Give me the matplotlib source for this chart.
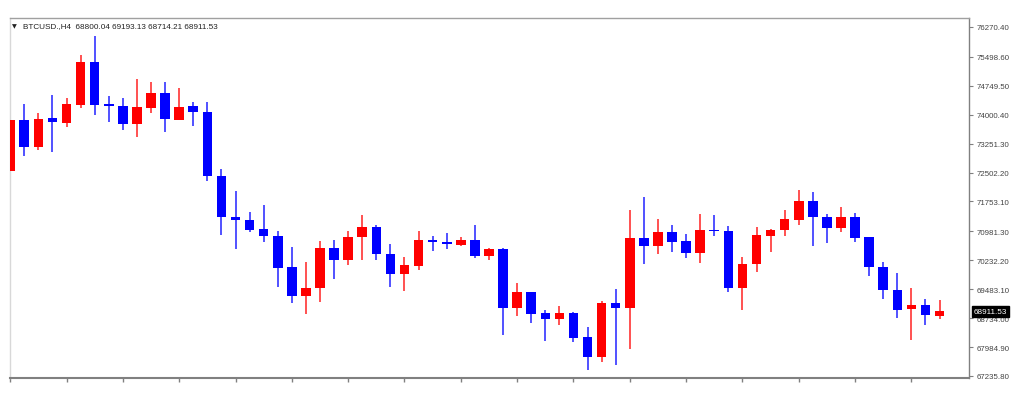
import matplotlib.pyplot as plt
import matplotlib.transforms as mtransforms
import numpy as np

plt.rcParams['font.family'] = ['Liberation Sans', 'DejaVu Sans']

# BTCUSD H4 candles
opens = [72550, 73871, 73172, 73907, 73785, 74259, 75356, 74277, 74233, 73759,
         74173, 74562, 73871, 74217, 74078, 72421, 71359, 71274, 71041, 70860,
         70050, 69314, 69506, 70542, 70239, 70826, 71093, 70402, 69868, 70091,
         70756, 70705, 70635, 70764, 70350, 70523, 69004, 69402, 68859, 68711,
         68859, 68237, 67720, 69125, 68996, 70800, 70609, 70971, 70730, 70412,
         71023, 70997, 69506, 70135, 70868, 71015, 71274, 71774, 71359, 71059,
         71344, 70826, 70065, 69470, 68965, 69074, 68800.04]
highs = [74476, 74277, 74044, 74510, 74432, 75545, 76045, 74492, 74432, 74924,
         74854, 74854, 74691, 74337, 74321, 72594, 72017, 71473, 71662, 70997,
         70583, 70195, 70723, 70756, 70989, 71404, 71145, 70653, 70309, 70982,
         70868, 70930, 70826, 71145, 70557, 70557, 69635, 69402, 68944, 69040,
         68900, 68512, 69170, 69488, 71533, 71862, 71300, 71145, 70912, 71430,
         71411, 71111, 70309, 71085, 71040, 71541, 72051, 72007, 71430, 71618,
         71448, 70826, 70179, 69902, 69506, 69229, 69193.13]
lows = [72310, 72923, 73086, 73027, 73674, 74166, 74000, 73803, 73604, 73415,
        74036, 73560, 73850, 73715, 72291, 70886, 70523, 70956, 70697, 69532,
        69125, 68841, 69159, 69747, 70109, 70246, 70246, 69532, 69444, 69987,
        70479, 70523, 70609, 70283, 70246, 68297, 68781, 68608, 68150, 68556,
        68108, 67399, 67590, 67528, 67935, 70135, 70394, 70438, 70298, 70161,
        70868, 69402, 68952, 69936, 70438, 70852, 71145, 70609, 70679, 70971,
        70712, 69817, 69229, 68729, 68175, 68564, 68714.21]
closes = [73871, 73172, 73896, 73803, 74277, 75356, 74259, 74217, 73759, 74191,
          74562, 73889, 74191, 74062, 72405, 71344, 71274, 71023, 70852, 70024,
          69314, 69514, 70542, 70239, 70842, 71093, 70394, 69868, 70109, 70749,
          70705, 70645, 70764, 70342, 70523, 69004, 69402, 68841, 68711, 68859,
          68219, 67720, 69125, 68996, 70800, 70593, 70956, 70712, 70412, 71023,
          70982, 69506, 70127, 70886, 71023, 71300, 71774, 71359, 71059, 71344,
          70800, 70050, 69470, 68952, 69074, 68823, 68911.53]

price_ticks = [76270.40, 75498.60, 74749.50, 74000.40, 73251.30, 72502.20,
               71753.10, 70981.30, 70232.20, 69483.10, 68734.00, 67984.90, 67235.80]
header = "BTCUSD.,H4  68800.04 69193.13 68714.21 68911.53"

o = np.array(opens)
h = np.array(highs)
l = np.array(lows)
c = np.array(closes)
x = np.arange(len(o))
up = c >= o
colors = np.where(up, '#ff0000', '#0000ff')

fig = plt.figure(figsize=(10.24, 4.02), dpi=100)
ax = fig.add_axes([9.5 / 1024, 23 / 402, 959.5 / 1024, 360 / 402])

# wicks a bit softer than the bodies, like in the screenshot
ax.vlines(x, l, h, colors=colors, linewidth=1.2, alpha=0.8, zorder=2)
ax.bar(x, np.abs(c - o), bottom=np.minimum(o, c), width=0.68,
       color=colors, linewidth=0, zorder=3)

ax.set_xlim(-0.05, 68.09)
ax.set_ylim(67184, 76503)

ax.yaxis.tick_right()
ax.set_yticks(price_ticks)
ax.set_yticklabels([f"{v:.2f}" for v in price_ticks])
ax.tick_params(axis='y', direction='out', length=3, width=0.8, color='#808080',
               labelsize=5.7, labelcolor='#444444', pad=2.5)
ax.set_xticks(np.arange(0, 65, 4))
ax.set_xticklabels([])
ax.tick_params(axis='x', direction='out', length=3, width=1, color='#808080')

ax.spines['top'].set_color('#a0a0a0')
ax.spines['top'].set_linewidth(1)
ax.spines['left'].set_color('#d8d8d8')
ax.spines['left'].set_linewidth(1)
ax.spines['bottom'].set_color('#808080')
ax.spines['bottom'].set_linewidth(1.5)
ax.spines['right'].set_color('#808080')
ax.spines['right'].set_linewidth(1)

# current price marker on the right scale
trans = mtransforms.blended_transform_factory(ax.transAxes, ax.transData)
ax.text(1.005, c[-1], f"{c[-1]:.2f}", transform=trans, ha='left', va='center',
        fontsize=5.9, color='white', zorder=5, clip_on=False,
        bbox=dict(facecolor='black', edgecolor='black', pad=1.4))

fig.text(12 / 1024, 1 - 27 / 402, "\u25bc", fontsize=4.5, color='#222222',
         ha='left', va='center', family=['DejaVu Sans'])
fig.text(23 / 1024, 1 - 27 / 402, header, fontsize=5.9, color='#222222',
         ha='left', va='center')

plt.savefig("out.png", dpi=100, facecolor='white')
